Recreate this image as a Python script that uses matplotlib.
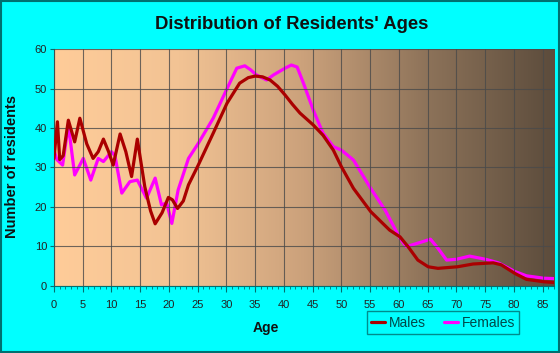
import numpy as np
import matplotlib
matplotlib.use('Agg')
import matplotlib.pyplot as plt
from matplotlib.colors import LinearSegmentedColormap

plt.rcParams['font.family'] = ['Liberation Sans', 'DejaVu Sans']

# data
male_age = [0, 0.6, 1.0, 1.6, 2.5, 3.6, 4.5, 5.7, 6.8, 7.7, 8.6, 9.5, 10.3, 11.5, 12.5, 13.5,
            14.5, 15.8, 16.8, 17.6, 18.8, 19.9, 20.6, 21.5, 22.5, 23.4, 25.1, 27.7, 30.1, 32.3,
            33.8, 35.0, 36.3, 37.6, 38.9, 40.2, 41.5, 42.8, 45.1, 46.8, 48.6, 50.0, 52.1, 55.1,
            58.4, 60.2, 61.6, 63.3, 65.1, 66.8, 70.2, 72.9, 76.4, 77.8, 80.2, 82.2, 85.2, 87.0]
male_val = [32.3, 41.6, 32.0, 33.0, 42.0, 36.5, 42.5, 36.0, 32.3, 34.0, 37.2, 34.0, 30.6, 38.5, 34.0, 27.7,
            37.2, 25.1, 19.0, 15.7, 18.5, 22.4, 21.8, 19.6, 21.5, 25.6, 30.6, 38.7, 46.3, 51.4,
            52.8, 53.2, 53.0, 52.2, 50.6, 48.4, 46.0, 43.8, 40.8, 38.2, 34.4, 30.2, 24.7, 18.8,
            14.1, 12.4, 9.9, 6.5, 4.8, 4.4, 4.8, 5.5, 5.8, 5.3, 3.1, 1.6, 1.0, 0.8]

female_age = [0, 0.5, 1.5, 2.5, 3.6, 5.1, 6.4, 7.7, 8.6, 10.0, 10.6, 11.8, 13.2, 14.5, 16.1,
              17.6, 18.7, 19.6, 20.5, 21.6, 23.4, 25.1, 27.7, 30.1, 31.8, 33.2, 34.2, 35.2, 37.0,
              38.2, 40.2, 41.3, 42.3, 43.4, 45.1, 46.8, 48.6, 50.0, 52.1, 55.1, 57.6, 60.2, 61.3,
              63.3, 65.5, 66.8, 68.3, 70.0, 72.3, 75.1, 77.3, 80.2, 82.2, 85.2, 87.0]
female_val = [34.4, 32.0, 30.6, 40.8, 28.1, 32.3, 26.8, 32.3, 31.5, 34.0, 33.0, 23.5, 26.4, 26.8, 22.2,
              27.3, 20.5, 21.0, 15.8, 24.3, 32.3, 36.1, 42.5, 50.0, 55.2, 55.8, 54.8, 53.5, 52.2,
              53.5, 55.2, 56.0, 55.5, 51.4, 44.6, 38.7, 35.3, 34.4, 31.9, 24.7, 19.2, 12.0, 9.9,
              10.8, 11.8, 9.5, 6.5, 6.7, 7.5, 6.7, 5.8, 3.6, 2.5, 1.9, 1.8]

x_ticks = list(range(0, 90, 5))
y_ticks = list(range(0, 70, 10))

teal = '#007070'
fig = plt.figure(figsize=(5.6, 3.53), dpi=100, facecolor='#00FFFF')
fig.patches.append(plt.Rectangle((0.002, 0.003), 0.996, 0.994, transform=fig.transFigure,
                                 fill=False, edgecolor=teal, linewidth=1.5))
ax = fig.add_axes([0.0964, 0.1907, 0.893, 0.6697])

# background gradient
cmap = LinearSegmentedColormap.from_list('bg', [(0, '#FFCC99'), (0.25, '#F2C394'),
                                                (0.5, '#CBA17B'), (0.75, '#8C7259'),
                                                (1, '#5C4C3C')])
grad = np.linspace(0, 1, 256).reshape(1, -1)
ax.imshow(grad, aspect='auto', cmap=cmap, extent=[0, 87, 0, 60], zorder=0)

ax.plot(male_age, male_val, color='#AA0000', lw=2.3, solid_joinstyle='round',
        solid_capstyle='round', label='Males', zorder=3)
ax.plot(female_age, female_val, color='#FF00FF', lw=2.3, solid_joinstyle='round',
        solid_capstyle='round', label='Females', zorder=2)

ax.set_xlim(0, 87)
ax.set_ylim(0, 60)
ax.set_xticks(x_ticks)
ax.set_xticks(range(0, 88), minor=True)
ax.set_yticks(y_ticks)
ax.grid(True, which='major', color='#4A4A4A', lw=0.8, alpha=0.8, zorder=1)
ax.set_axisbelow(False)
for s in ['top', 'right']:
    ax.spines[s].set_visible(False)
ax.spines['left'].set_color(teal)
ax.spines['bottom'].set_color(teal)
ax.tick_params(axis='both', which='major', direction='out', length=4, color=teal,
               labelsize=8, labelcolor='#222222', pad=6)
ax.tick_params(axis='x', which='minor', direction='out', length=2.5, color=teal)
ax.tick_params(axis='y', which='major', length=3, pad=2)

fig.text(0.52, 0.932, "Distribution of Residents' Ages", ha='center', va='center',
         fontsize=13.3, fontweight='bold', color='#111111')
fig.text(0.475, 0.07, 'Age', ha='center', va='center', fontsize=10,
         fontweight='bold', color='#111111')
fig.text(0.022, 0.527, 'Number of residents', ha='center', va='center', rotation=90,
         fontsize=10.5, fontweight='bold', color='#111111')

leg = ax.legend(loc='center', bbox_to_anchor=(0.7911, 0.086), bbox_transform=fig.transFigure,
                ncol=2, frameon=True, fancybox=False, fontsize=10, handlelength=1.0,
                handletextpad=0.3, columnspacing=1.3, borderpad=0.3, labelcolor='#004848')
leg.get_frame().set_edgecolor(teal)
leg.get_frame().set_facecolor('#00FFFF')
leg.get_frame().set_linewidth(1.0)

fig.savefig('out.png', dpi=100, facecolor=fig.get_facecolor())
